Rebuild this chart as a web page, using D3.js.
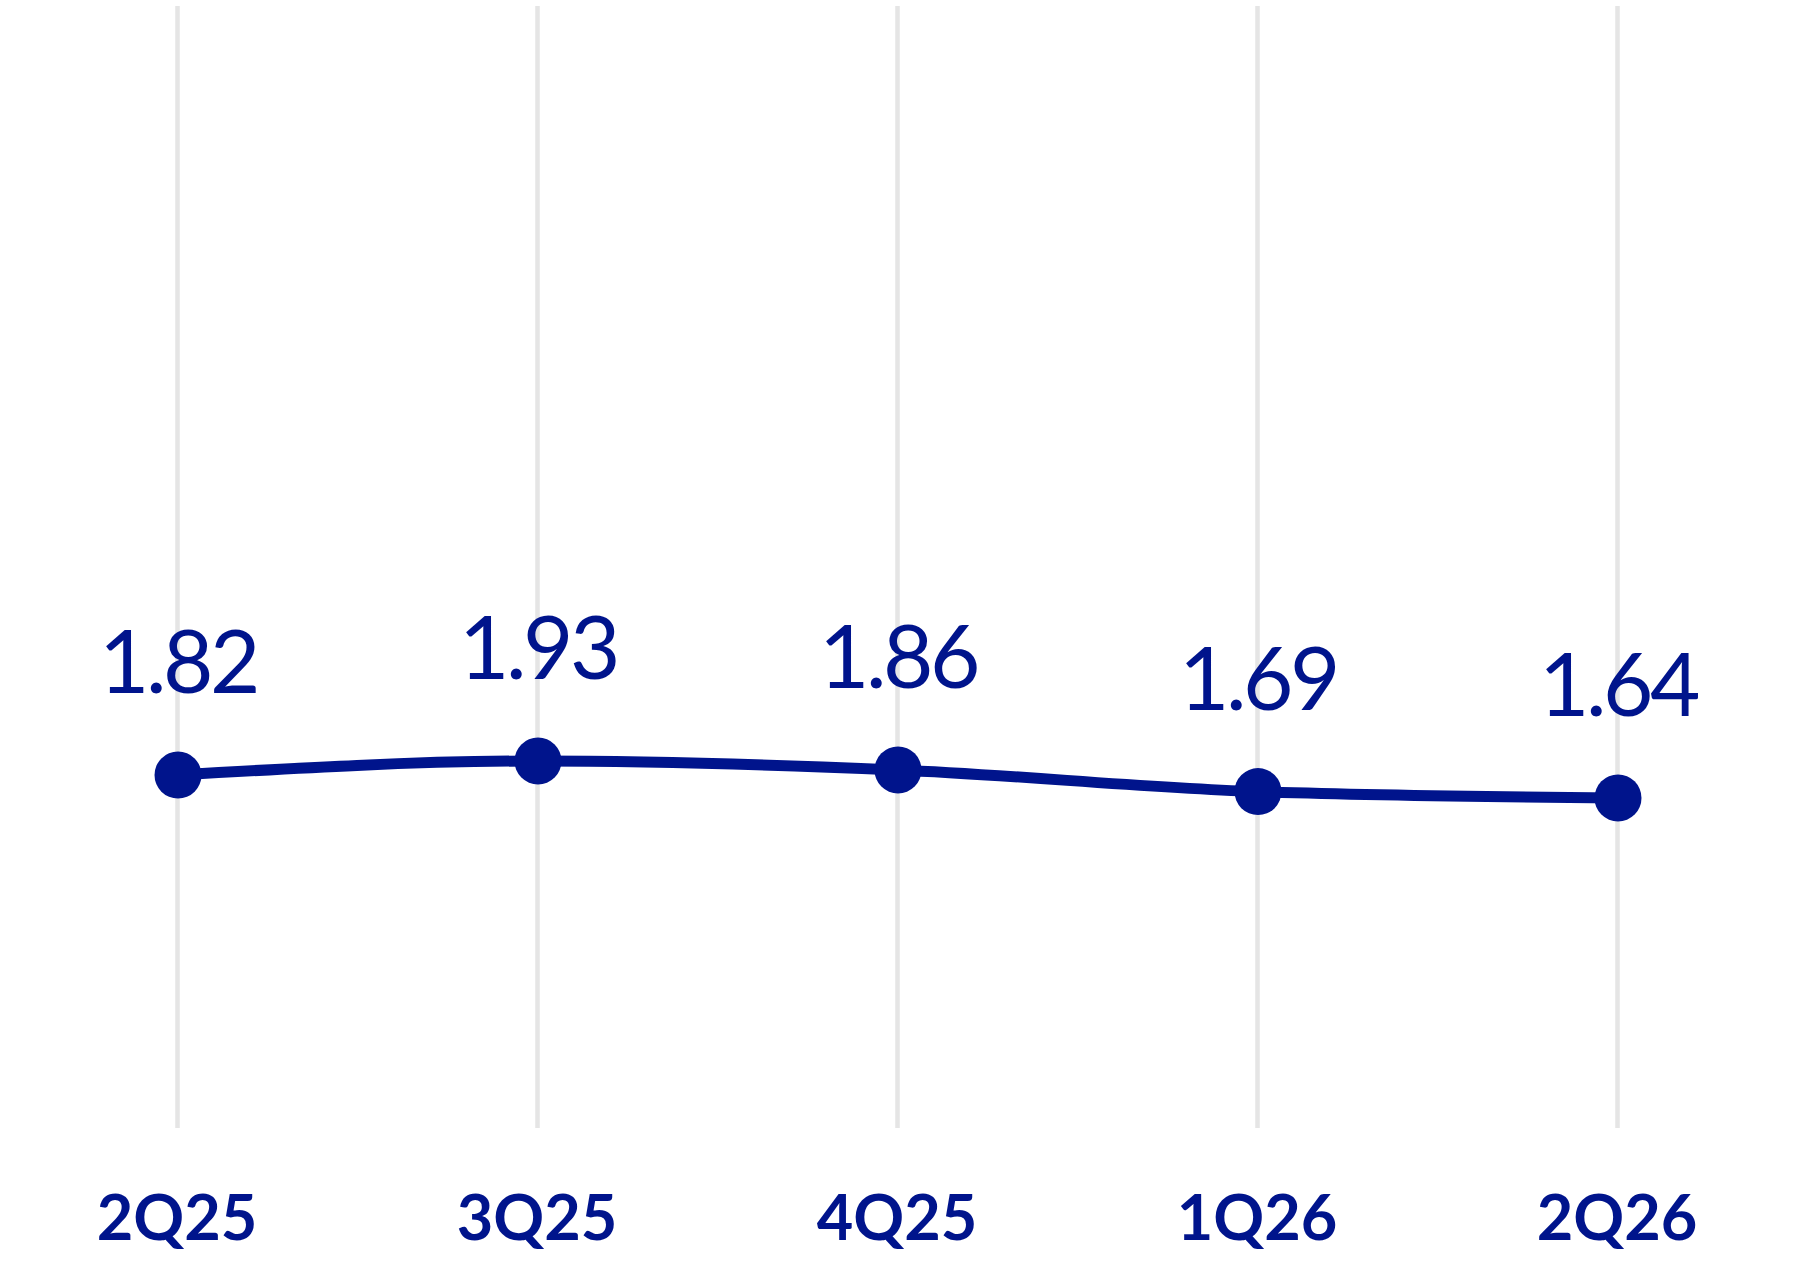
<!DOCTYPE html>
<html>
<head>
<meta charset="utf-8">
<script src="https://cdn.jsdelivr.net/npm/d3@7"></script>
<style>
  html, body { margin: 0; padding: 0; background: #fff; }
  svg { display: block; }
</style>
</head>
<body>
<div id="chart"></div>
<script>
// quarters and values
var quarters = ["2Q25", "3Q25", "4Q25", "1Q26", "2Q26"];
var values = [1.82, 1.93, 1.86, 1.69, 1.64];

var W = 1800, H = 1266;
var navy = "#00148c";

var svg = d3.select("#chart")
  .append("svg")
    .attr("width", W)
    .attr("height", H);

// x scale - one gridline per quarter
var x = d3.scalePoint()
  .domain(quarters)
  .range([177, 1617]);

// y scale
var y = d3.scaleLinear()
  .domain([0, 1.93])
  .range([1007, 761]);

// gridlines (drawn as an axis with long ticks)
var gridTop = 6, gridBottom = 1128;
var grid = svg.append("g")
  .attr("transform", "translate(0," + gridBottom + ")")
  .call(d3.axisBottom(x).tickSize(-(gridBottom - gridTop)).tickFormat(""));
grid.select(".domain").remove();
grid.selectAll(".tick line")
  .attr("stroke", "#e5e5e5")
  .attr("stroke-width", 4.5);

// x labels
svg.append("g")
  .selectAll("text")
  .data(quarters)
  .enter()
  .append("text")
    .attr("x", function (d) { return x(d); })
    .attr("y", 1240)
    .attr("text-anchor", "middle")
    .style("font-family", "Lato")
    .style("font-weight", "bold")
    .style("font-size", "63px")
    .style("fill", navy)
    .text(function (d) { return d; });

var pts = quarters.map(function (q, i) { return {q: q, v: values[i]}; });

// line
var line = d3.line()
  .x(function (d) { return x(d.q); })
  .y(function (d) { return y(d.v); })
  .curve(d3.curveMonotoneX);

svg.append("path")
  .datum(pts)
  .attr("d", line)
  .attr("fill", "none")
  .attr("stroke", navy)
  .attr("stroke-width", 11);

// dots
svg.append("g")
  .selectAll("circle")
  .data(pts)
  .enter()
  .append("circle")
    .attr("cx", function (d) { return x(d.q) + 1; })
    .attr("cy", function (d) { return y(d.v); })
    .attr("r", 23.5)
    .style("fill", navy);

// value labels
svg.append("g")
  .selectAll("text")
  .data(pts)
  .enter()
  .append("text")
    .attr("x", function (d) { return x(d.q) + 1; })
    .attr("y", function (d) { return y(d.v) - 82; })
    .attr("text-anchor", "middle")
    .style("font-family", "Lato")
    .style("font-size", "87px")
    .style("letter-spacing", "-3.5px")
    .style("fill", navy)
    .text(function (d) { return d3.format(".2f")(d.v); });
</script>
</body>
</html>
